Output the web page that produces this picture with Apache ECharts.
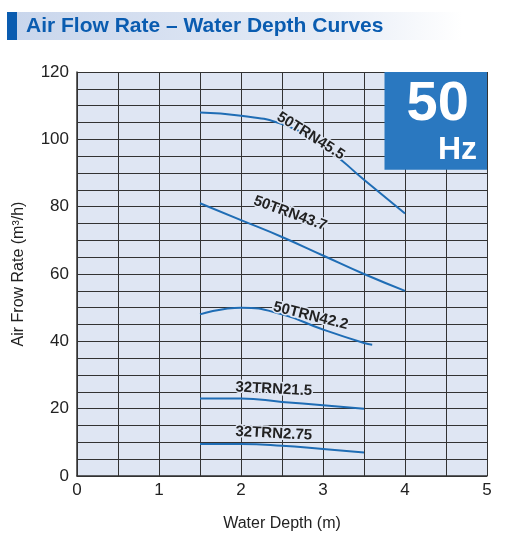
<!DOCTYPE html>
<html><head><meta charset="utf-8">
<script src="https://cdn.jsdelivr.net/npm/echarts@6/dist/echarts.min.js"></script>
<style>body{margin:0;background:#fff}#c{width:512px;height:542px}</style></head>
<body><div id="c"></div>
<script>
const names=['50TRN45.5','50TRN43.7','50TRN42.2','32TRN21.5','32TRN2.75'];
const s455=[[1.5,108],[2,107],[2.5,104.5],[3,98],[3.5,88],[4,78]];
const s437=[[1.5,81],[2,76],[2.5,71],[3,65.5],[3.5,60],[4,55]];
const s422=[[1.5,48],[2,50],[2.5,48],[3,43.5],[3.5,39.5],[3.6,39]];
const s215=[[1.5,23],[2,23],[2.5,22],[3,21],[3.5,20]];
const s275=[[1.5,9.5],[2,9.5],[2.5,9],[3,8],[3.5,7]];
const labelPos=[[2.85,101],[2.6,78],[2.85,47.5],[2.4,25.8],[2.4,12.6]];
const labelRot=[-32,-20,-14,-3,-3];
const xTicks=[0,1,2,3,4,5];
const yTicks=[0,20,40,60,80,100,120];
const c=echarts.init(document.getElementById('c'));
const data=[s455,s437,s422,s215,s275];
const F='"Liberation Sans"';
c.setOption({
 animation:false,
 grid:{left:77,right:25,top:72,bottom:66},
 xAxis:{type:'value',min:0,max:5,interval:0.5,
  axisLabel:{color:'#222',fontSize:17,fontFamily:'Liberation Sans',formatter:v=>xTicks.includes(v)?String(v):'',margin:6},
  axisLine:{lineStyle:{color:'#333',width:1.5}},axisTick:{show:false},
  splitLine:{lineStyle:{color:'#333',width:1}},
  name:'Water Depth (m)',nameLocation:'middle',nameGap:40,nameTextStyle:{color:'#222',fontSize:16,fontFamily:'Liberation Sans'}},
 yAxis:{type:'value',min:0,max:120,interval:5,
  axisLabel:{color:'#222',fontSize:17,fontFamily:'Liberation Sans',formatter:v=>yTicks.includes(v)?String(v):'',margin:8},
  axisLine:{show:true,lineStyle:{color:'#333',width:1.5}},axisTick:{show:false},
  splitLine:{lineStyle:{color:'#333',width:1}},
  name:'Air Frow Rate (m³/h)',nameLocation:'middle',nameGap:50,nameTextStyle:{color:'#222',fontSize:16,fontFamily:'Liberation Sans'}},
 series:data.map((d,i)=>({type:'line',name:names[i],data:d,smooth:true,showSymbol:false,lineStyle:{color:'#1f6db5',width:2}}))
});
const g=[];
const tl=c.convertToPixel({gridIndex:0},[0,120]);
const br=c.convertToPixel({gridIndex:0},[5,0]);
g.push({type:'rect',z:-10,shape:{x:tl[0],y:tl[1],width:br[0]-tl[0],height:br[1]-tl[1]},style:{fill:'#dfe6f3'}});
names.forEach((n,i)=>{const p=c.convertToPixel({gridIndex:0},labelPos[i]);
 g.push({type:'text',x:p[0],y:p[1],rotation:labelRot[i]*Math.PI/180,z:10,
  style:{text:n,align:'center',verticalAlign:'middle',font:'bold 15px '+F,fill:'#222',stroke:'#dfe6f3',lineWidth:3}});});
const b1=c.convertToPixel({gridIndex:0},[3.75,120]);const b2=c.convertToPixel({gridIndex:0},[5,91]);
g.push({type:'rect',z:20,shape:{x:b1[0],y:b1[1],width:b2[0]-b1[0],height:b2[1]-b1[1]},style:{fill:'#2a78c0'}});
g.push({type:'text',z:21,x:(b1[0]+b2[0])/2+2,y:b1[1]+33,style:{text:'50',align:'center',verticalAlign:'middle',font:'bold 56px '+F,fill:'#fff'}});
g.push({type:'text',z:21,x:b2[0]-10,y:b1[1]+78,style:{text:'Hz',align:'right',verticalAlign:'middle',font:'bold 32px '+F,fill:'#fff'}});
g.push({type:'rect',shape:{x:17,y:12,width:445,height:28},style:{fill:new echarts.graphic.LinearGradient(0,0,1,0,[{offset:0,color:'#c9d6ec'},{offset:0.7,color:'#e6ecf6'},{offset:1,color:'#ffffff'}])}});
g.push({type:'rect',shape:{x:7,y:12,width:10,height:28},style:{fill:'#0a5cb0'}});
g.push({type:'text',x:26,y:26,style:{text:'Air Flow Rate – Water Depth Curves',verticalAlign:'middle',font:'bold 21px '+F,fill:'#0a5cb0'}});
c.setOption({graphic:g});
</script></body></html>
